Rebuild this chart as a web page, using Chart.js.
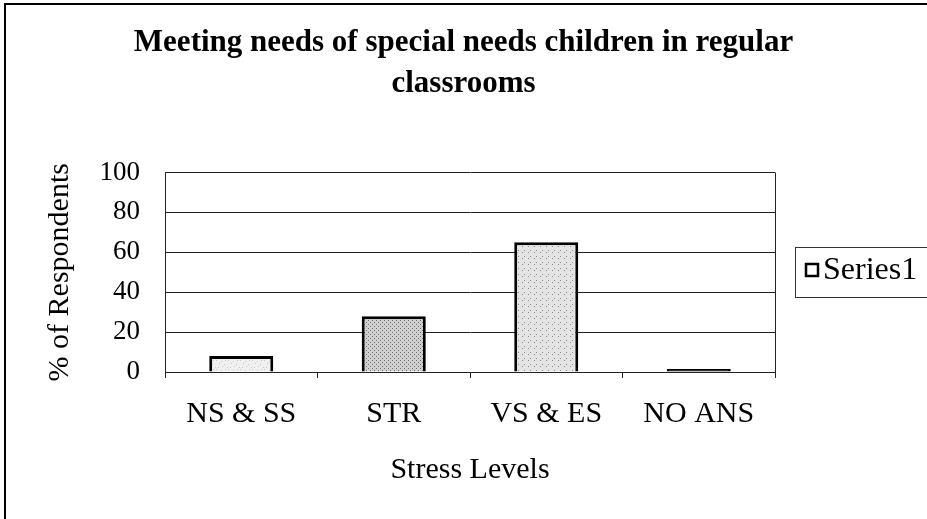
<!DOCTYPE html>
<html>
<head>
<meta charset="utf-8">
<script src="https://cdn.jsdelivr.net/npm/chart.js@4"></script>
<style>
  html, body { margin: 0; padding: 0; background: #fff; }
  #wrap { width: 927px; height: 519px; }
</style>
</head>
<body>
<div id="wrap"><canvas id="stress-chart" width="927" height="519"></canvas></div>
<script>
const categories = ["NS & SS", "STR", "VS & ES", "NO ANS"];
const series1 = [8, 28, 65, 1.5];
const yTicks = [0, 20, 40, 60, 80, 100];
const titleLines = ["Meeting needs of special needs children in regular", "classrooms"];

// speckled grey fill like the scanned bars
function stipple(base, dot, step) {
  const c = document.createElement("canvas");
  c.width = 12; c.height = 12;
  const g = c.getContext("2d");
  g.fillStyle = base;
  g.fillRect(0, 0, 12, 12);
  g.fillStyle = dot;
  for (let i = 0; i < 12; i++) {
    for (let j = 0; j < 12; j++) {
      if ((i * 7 + j * 5 + i * j) % step === 0) g.fillRect(i, j, 1, 1);
    }
  }
  return g.createPattern(c, "repeat");
}

const serif = "'Liberation Serif', 'Times New Roman', serif";

const frame = {
  id: "frame",
  beforeDraw(chart) {
    const ctx = chart.ctx;
    ctx.save();
    ctx.strokeStyle = "#000";
    ctx.lineWidth = 2;
    ctx.beginPath();
    ctx.moveTo(5, 519);
    ctx.lineTo(5, 4);
    ctx.lineTo(927, 4);
    ctx.stroke();
    ctx.restore();
  },
  afterDraw(chart) {
    const ctx = chart.ctx;
    const a = chart.chartArea;
    ctx.save();
    ctx.strokeStyle = "#222";
    ctx.lineWidth = 1;
    ctx.beginPath();
    ctx.moveTo(a.right + 0.5, a.top);
    ctx.lineTo(a.right + 0.5, a.bottom + 6);
    ctx.stroke();
    // legend
    ctx.strokeStyle = "#333";
    ctx.strokeRect(795.5, 247.5, 140, 50);
    ctx.fillStyle = "#fff";
    ctx.fillRect(806, 264, 12, 12);
    ctx.strokeStyle = "#000";
    ctx.lineWidth = 2.5;
    ctx.strokeRect(806, 264, 12, 12);
    ctx.fillStyle = "#000";
    ctx.font = "32px " + serif;
    ctx.textBaseline = "middle";
    ctx.fillText(chart.data.datasets[0].label, 823, 271);
    ctx.restore();
  }
};

document.addEventListener("DOMContentLoaded", function () {
  const ctx = document.getElementById("stress-chart").getContext("2d");
  const fills = [
    stipple("#f0f0f0", "#c8c8c8", 9),
    stipple("#d0d0d0", "#707070", 4),
    stipple("#e4e4e4", "#8a8a8a", 6),
    "#000"
  ];
  new Chart(ctx, {
    type: "bar",
    data: {
      labels: categories,
      datasets: [
        {
          label: "Series1",
          data: series1,
          backgroundColor: fills,
          borderColor: "#000",
          borderWidth: 3,
          categoryPercentage: 1,
          barPercentage: 0.42,
          yAxisID: "y",
        },
      ],
    },
    options: {
      responsive: false,
      animation: false,
      layout: { padding: 0 },
      plugins: {
        legend: { display: false },
        tooltip: { enabled: false },
        title: {
          display: true,
          text: titleLines,
          color: "#000",
          font: { family: serif, size: 31, weight: "bold", lineHeight: 1.33 },
          padding: { top: 22, bottom: 68 },
        },
      },
      scales: {
        y: {
          min: 0,
          max: 100,
          afterFit(scale) { scale.width = 165; },
          afterBuildTicks(scale) { scale.ticks = yTicks.map(v => ({ value: v })); },
          ticks: { color: "#000", padding: 25, font: { family: serif, size: 27 } },
          grid: { color: "#222", lineWidth: 1, drawTicks: false },
          border: { color: "#222" },
          title: {
            display: true,
            text: "% of Respondents",
            color: "#000",
            font: { family: serif, size: 30, lineHeight: 1.2 },
            padding: { top: 42, bottom: 0 },
          },
        },
        // empty box on the right that leaves room for the legend
        side: {
          type: "linear",
          position: "right",
          display: true,
          afterFit(scale) { scale.width = 152; },
          ticks: { display: false },
          grid: { display: false },
          border: { display: false },
        },
        x: {
          afterFit(scale) { scale.height = 147; },
          ticks: { color: "#000", padding: 18, font: { family: serif, size: 30 } },
          grid: { offset: true, drawOnChartArea: false, color: "#222", tickLength: 6 },
          border: { color: "#222" },
          title: {
            display: true,
            text: "Stress Levels",
            color: "#000",
            font: { family: serif, size: 30, lineHeight: 1.2 },
            padding: { top: 0, bottom: 31 },
          },
        },
      },
    },
    plugins: [frame],
  });
});
</script>
</body>
</html>
